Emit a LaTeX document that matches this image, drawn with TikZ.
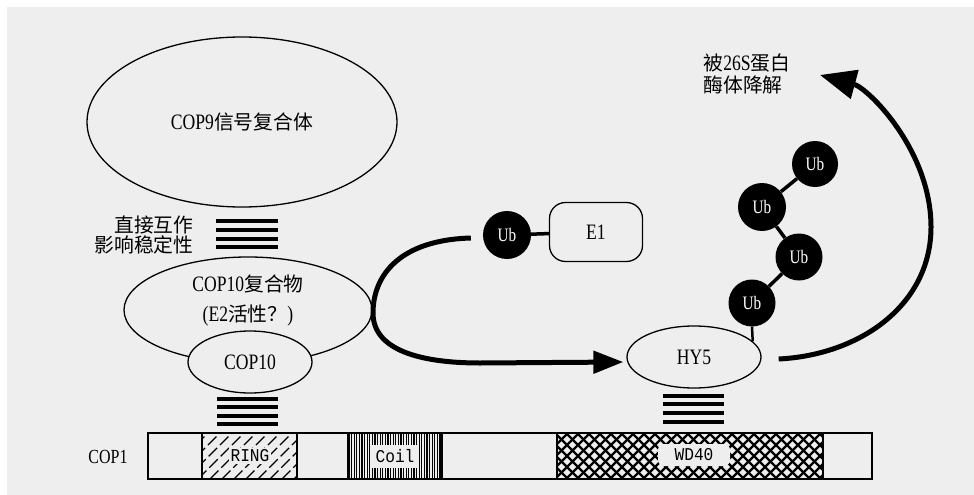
\documentclass[tikz,border=0pt]{standalone}
\usepackage{fontspec}
\setmainfont{Liberation Serif}[FakeStretch=0.8]
\setmonofont{Liberation Mono}[FakeStretch=0.9]
\newfontfamily\cjk{Noto Sans CJK SC}[Scale=0.9]
\usetikzlibrary{shapes.geometric,arrows.meta,calc}
\definecolor{bgc}{RGB}{238,238,238}
\begin{document}
\begin{tikzpicture}[x=1pt,y=-1pt,
  oval/.style={ellipse,draw,line width=1.3pt,inner sep=0pt},
  ub/.style={circle,fill=black,minimum size=48pt,inner sep=0pt,text=white,font=\fontsize{19}{19}\selectfont},
  conn/.style={line width=3.5pt},
  bigarrow/.style={line width=5pt,-{Triangle[length=30pt,width=22pt]}},
  lbl/.style={font=\fontsize{22}{24}\selectfont},
  stripe/.style={fill=black},
  ttl/.style={font=\ttfamily\fontsize{18}{18}\selectfont},
  ]
\useasboundingbox (0,0) rectangle (974,495);
\fill[white] (0,0) rectangle (974,495);
\fill[bgc] (7,7) rectangle (974,495);

% COP9 and COP10
\node[oval,minimum width=310pt,minimum height=170pt,lbl] (cop9) at (242,122) {COP9{\cjk 信号复合体}};
\node[oval,minimum width=248pt,minimum height=106pt] (cop10c) at (248,310) {};
\node[align=center,font=\fontsize{22}{30}\selectfont] (cop10ctext) at (248,300) {COP10{\cjk 复合物}\\({E2}{\cjk 活性？})};
\node[oval,fill=bgc,minimum width=124pt,minimum height=62pt,lbl] (cop10) at (250,362) {COP10};

\node[anchor=east,align=right,font=\fontsize{22}{20}\selectfont\cjk] (direct) at (197,235) {直接互作\\影响稳定性};

% stripes
\foreach \y in {221,230,239,247} \fill[stripe] (216,\y-2.4) rectangle (278,\y+2.4);
\foreach \y in {399,407,416,424} \fill[stripe] (217,\y-2.4) rectangle (278,\y+2.4);
\foreach \y in {396,404,413,422} \fill[stripe] (663,\y-2.4) rectangle (724,\y+2.4);

% COP1 bar
\node[draw,line width=1.3pt,minimum width=724pt,minimum height=46pt,inner sep=0pt] (cop1bar) at (510,456) {};
\node[font=\fontsize{20}{20}\selectfont] (cop1) at (108,457) {COP1};

% RING
\begin{scope}
\clip (202,433) rectangle (297,479);
\foreach \x in {150,162,...,320} \draw[line width=1.2pt,dash pattern=on 12pt off 4pt] (\x,479) -- ++(46,-46);
\end{scope}
\draw[line width=1.3pt] (202,433) rectangle (297,479);
\node[fill=bgc,inner sep=1.5pt,ttl] (ring) at (250,456) {RING};

% Coil
\begin{scope}
\clip (348,433) rectangle (442,479);
\foreach \x in {349,351.6,...,442} \draw[line width=1.2pt] (\x,433) -- (\x,479);
\end{scope}
\draw[line width=1.3pt] (348,433) rectangle (442,479);
\node[fill=bgc,minimum width=46pt,minimum height=23pt,inner sep=0pt,ttl] (coil) at (395,456) {Coil};

% WD40
\begin{scope}
\clip (557,433) rectangle (823,479);
\foreach \x in {500,511,...,880} {
  \draw[line width=2.2pt] (\x,479) -- ++(46,-46);
  \draw[line width=2.2pt] (\x,433) -- ++(46,46);
}
\end{scope}
\draw[line width=1.3pt] (557,433) rectangle (823,479);
\node[fill=bgc,minimum width=72pt,minimum height=22pt,inner sep=0pt,rounded corners=6pt,ttl] (wd40) at (694,455) {WD40};

% HY5, E1, Ub
\node[oval,minimum width=134pt,minimum height=62pt,lbl] (hy5) at (694,357) {HY5};
\node[draw,rounded corners=16pt,line width=1.3pt,minimum width=93pt,minimum height=59pt,lbl] (e1) at (596,232) {E1};
\node[ub] (ub1) at (507,235) {Ub};
\node[ub,minimum size=46pt] (ubA) at (815,164) {Ub};
\node[ub,minimum size=48pt] (ubB) at (762,207) {Ub};
\node[ub,minimum size=47pt] (ubC) at (799,257) {Ub};
\node[ub,minimum size=47pt] (ubD) at (752,303) {Ub};

\draw[conn] (ub1) -- (e1);
\draw[conn] (ubA) -- (ubB);
\draw[conn] (ubB) -- (ubC);
\draw[conn] (ubC) -- (ubD);
\draw[line width=2.5pt] (ubD.south) -- (hy5.15);

% arrows
\draw[bigarrow] ($(ub1.west)+(-12,3)$) .. controls (400,240) and (373,275) .. (373,313)
  .. controls (373,350) and (420,363) .. (480,363) -- ($(hy5.west)+(-3,5)$);

\coordinate (deg) at (820,75);
\draw[line width=5pt,-{Triangle[length=36pt,width=29pt]}] ($(hy5.east)+(17,2)$) .. controls (860,355) and (931,305) .. (931,227)
  .. controls (931,150) and (868,88) .. (deg);

\node[anchor=west,align=left,font=\fontsize{22}{22}\selectfont] (degtext) at (700,74) {{\cjk 被}26S{\cjk 蛋白}\\{\cjk 酶体降解}};
\end{tikzpicture}
\end{document}
